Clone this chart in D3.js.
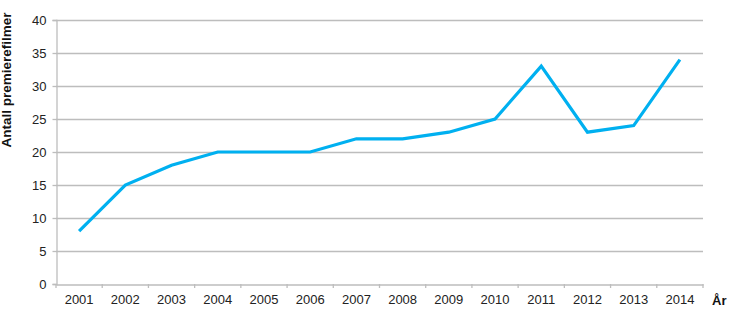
<!DOCTYPE html>
<html><head><meta charset="utf-8">
<script src="https://cdn.jsdelivr.net/npm/d3@7"></script>
<style>body{margin:0;background:#fff}svg{display:block}text{font-family:"Liberation Sans",Arial,sans-serif}</style>
</head><body><svg id="c" width="730" height="325"></svg>
<script>
const years = ["2001","2002","2003","2004","2005","2006","2007","2008","2009","2010","2011","2012","2013","2014"];
const values = [8,15,18,20,20,20,22,22,23,25,33,23,24,34];
const yTicks = [0,5,10,15,20,25,30,35,40];
const yTitle = "Antall premierefilmer";
const xTitle = "År";

const svg = d3.select("#c");
const m = {l:56, r:27, t:20, b:41};
const W = 730, H = 325;
const x = d3.scaleBand().domain(years).range([m.l, W-m.r]);
const y = d3.scaleLinear().domain([0,40]).range([H-m.b, m.t]);

// gridlines
svg.append("g").selectAll("line").data(yTicks.filter(d=>d>0)).join("line")
  .attr("x1", m.l).attr("x2", W-m.r)
  .attr("y1", d=>y(d)+0.5).attr("y2", d=>y(d)+0.5)
  .attr("stroke","#bdbdbd").attr("stroke-width",1.3);

// y axis
const ya = svg.append("g").attr("transform",`translate(${m.l+0.5},0)`)
  .call(d3.axisLeft(y).tickValues(yTicks).tickSize(4).tickPadding(6));
ya.select(".domain").attr("stroke","#bdbdbd").attr("stroke-width",1.3);
ya.selectAll(".tick line").attr("stroke","#bdbdbd").attr("stroke-width",1.3);
ya.selectAll(".tick text").attr("font-size",13).attr("fill","#222").style("font-family","Liberation Sans, Arial, sans-serif");

// x axis
const xa = svg.append("g").attr("transform",`translate(0,${H-m.b+0.5})`)
  .call(d3.axisBottom(x).tickSize(0).tickPadding(10));
xa.select(".domain").attr("stroke","#bdbdbd").attr("stroke-width",1.3);
xa.selectAll(".tick text").attr("font-size",13).attr("fill","#222").style("font-family","Liberation Sans, Arial, sans-serif");
const bounds = years.map(d=>x(d)).concat([x(years[years.length-1])+x.bandwidth()]);
svg.append("g").selectAll("line").data(bounds).join("line")
  .attr("x1",d=>d).attr("x2",d=>d)
  .attr("y1",H-m.b).attr("y2",H-m.b+4)
  .attr("stroke","#bdbdbd").attr("stroke-width",1.3);

// line
const line = d3.line().x((d,i)=>x(years[i])+x.bandwidth()/2).y(d=>y(d));
svg.append("path").datum(values).attr("d",line)
  .attr("fill","none").attr("stroke","#00b0f0").attr("stroke-width",3.2)
  .attr("stroke-linejoin","miter");

// titles
svg.append("text").attr("transform","translate(11,80) rotate(-90)")
  .attr("text-anchor","middle").attr("font-size",13.5).attr("font-weight","bold")
  .attr("fill","#111").text(yTitle);
svg.append("text").attr("x",712).attr("y",305).attr("font-size",13)
  .attr("font-weight","bold").attr("fill","#111").text(xTitle);
</script></body></html>
